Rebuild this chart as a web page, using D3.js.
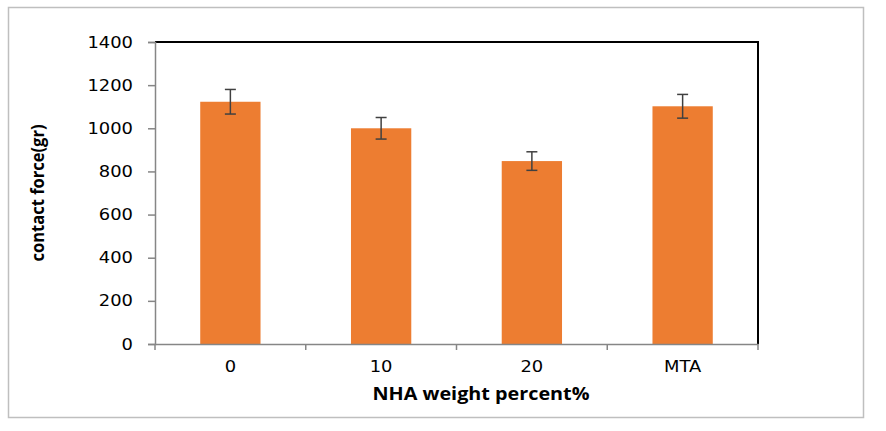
<!DOCTYPE html>
<html>
<head>
<meta charset="utf-8">
<script src="https://cdn.jsdelivr.net/npm/d3@7/dist/d3.min.js"></script>
<style>
  body { margin: 0; background: #fff; }
  svg { display: block; }
</style>
</head>
<body>
<div id="chart"></div>
<script>
// chart data
var categories = ["0", "10", "20", "MTA"];
var forces = [1123, 1000, 848, 1102];
var errors = [57, 50, 43, 55];
var yTicks = [0, 200, 400, 600, 800, 1000, 1200, 1400];

var width = 886, height = 431;
var margin = { left: 155, top: 42, right: 128, bottom: 87 };
var stretch = 1.12; // tick labels look horizontally stretched in the original

var svg = d3.select("#chart").append("svg")
    .attr("width", width)
    .attr("height", height);

// outer chart border
svg.append("rect")
    .attr("x", 8.5).attr("y", 7.5)
    .attr("width", 855).attr("height", 410)
    .attr("fill", "#fff")
    .attr("stroke", "#bfbfbf")
    .attr("stroke-width", 1.5);

var x = d3.scaleBand()
    .domain(categories)
    .range([margin.left, width - margin.right])
    .paddingInner(0.6)
    .paddingOuter(0.3);

var y = d3.scaleLinear()
    .domain([0, 1400])
    .range([height - margin.bottom, margin.top]);

var x0 = margin.left, x1 = width - margin.right;
var y0 = y(0), y1 = y(1400);

// plot area border (top and right black)
svg.append("path")
    .attr("d", "M" + x0 + "," + y1 + "H" + x1 + "V" + y0)
    .attr("fill", "none")
    .attr("stroke", "#000")
    .attr("stroke-width", 2);

// bars
svg.selectAll("rect.bar")
    .data(forces)
    .enter()
    .append("rect")
    .attr("class", "bar")
    .attr("x", function(d, i) { return x(categories[i]); })
    .attr("y", function(d) { return y(d); })
    .attr("width", x.bandwidth())
    .attr("height", function(d) { return y(0) - y(d); })
    .attr("fill", "#ED7D31");

// error bars
var eb = svg.selectAll("g.err")
    .data(forces)
    .enter()
    .append("g")
    .attr("class", "err")
    .attr("stroke", "#404040")
    .attr("stroke-width", 1.5);

eb.append("line")
    .attr("x1", function(d, i) { return x(categories[i]) + x.bandwidth() / 2; })
    .attr("x2", function(d, i) { return x(categories[i]) + x.bandwidth() / 2; })
    .attr("y1", function(d, i) { return y(d + errors[i]); })
    .attr("y2", function(d, i) { return y(d - errors[i]); });

[1, -1].forEach(function(s) {
    eb.append("line")
        .attr("x1", function(d, i) { return x(categories[i]) + x.bandwidth() / 2 - 5.5; })
        .attr("x2", function(d, i) { return x(categories[i]) + x.bandwidth() / 2 + 5.5; })
        .attr("y1", function(d, i) { return y(d + s * errors[i]); })
        .attr("y2", function(d, i) { return y(d + s * errors[i]); });
});

// y axis
var yAxis = svg.append("g")
    .attr("transform", "translate(" + x0 + ",0)")
    .call(d3.axisLeft(y).tickValues(yTicks).tickFormat(d3.format("d")).tickSize(7).tickPadding(15));

// x axis with ticks at category boundaries
var xAxis = svg.append("g")
    .attr("transform", "translate(0," + y0 + ")")
    .call(d3.axisBottom(x).tickSize(0).tickPadding(17));

var step = x.step();
xAxis.selectAll("line.bound")
    .data(d3.range(categories.length + 1))
    .enter()
    .append("line")
    .attr("class", "bound")
    .attr("x1", function(d) { return x0 + d * step; })
    .attr("x2", function(d) { return x0 + d * step; })
    .attr("y1", 0).attr("y2", 6)
    .attr("stroke", "#868686")
    .attr("stroke-width", 1.5);

[yAxis, xAxis].forEach(function(g) {
    g.select(".domain").attr("stroke", "#868686").attr("stroke-width", 1.5);
    g.selectAll(".tick line").attr("stroke", "#868686").attr("stroke-width", 1.5);
    g.selectAll(".tick text")
        .attr("font-family", "Verdana, 'DejaVu Sans', sans-serif")
        .attr("font-size", 16)
        .attr("fill", "#000");
});
yAxis.selectAll(".tick text")
    .attr("x", -22 / stretch)
    .attr("transform", "scale(" + stretch + ",1)");
xAxis.selectAll(".tick text")
    .attr("transform", "scale(" + stretch + ",1)");

// axis titles
svg.append("text")
    .attr("transform", "translate(44," + 193 + ") rotate(-90)")
    .attr("text-anchor", "middle")
    .attr("font-family", "'Open Sans', sans-serif")
    .attr("font-weight", "bold")
    .attr("font-size", 18)
    .attr("textLength", 137)
    .attr("lengthAdjust", "spacingAndGlyphs")
    .attr("fill", "#000")
    .text("contact force(gr)");

svg.append("text")
    .attr("x", 481)
    .attr("y", 400)
    .attr("text-anchor", "middle")
    .attr("font-family", "'Open Sans', sans-serif")
    .attr("font-weight", "bold")
    .attr("font-size", 17)
    .attr("textLength", 217)
    .attr("lengthAdjust", "spacingAndGlyphs")
    .attr("fill", "#000")
    .text("NHA weight percent%");
</script>
</body>
</html>
